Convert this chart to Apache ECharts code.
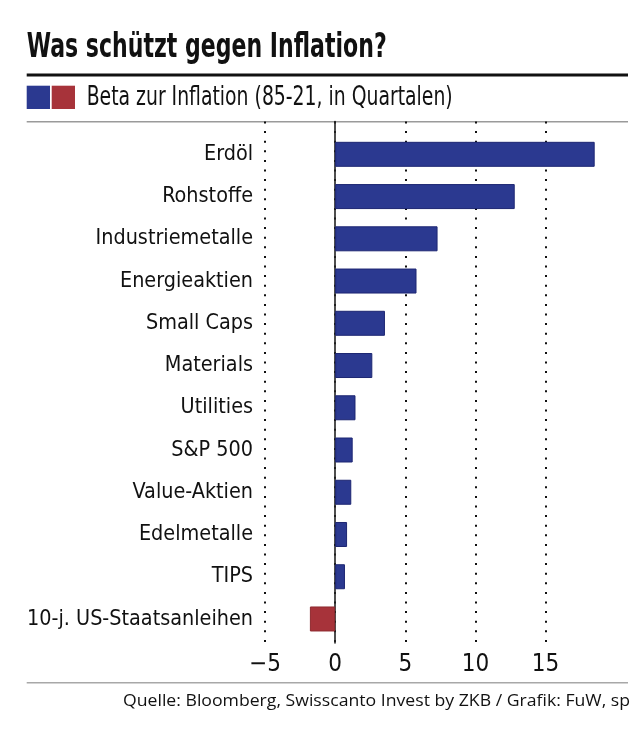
<!DOCTYPE html>
<html>
<head>
<meta charset="utf-8">
<script src="https://cdn.jsdelivr.net/npm/echarts@6/dist/echarts.min.js"></script>
<style>
html,body{margin:0;padding:0;background:#fff;}
#chart{width:640px;height:732px;}
</style>
</head>
<body>
<div id="chart"></div>
<script>
const titleText = 'Was schützt gegen Inflation?';
const legendText = 'Beta zur Inflation (85-21, in Quartalen)';
const sourceText = 'Quelle: Bloomberg, Swisscanto Invest by ZKB / Grafik: FuW, sp';
const categories = ['Erdöl', 'Rohstoffe', 'Industriemetalle', 'Energieaktien', 'Small Caps', 'Materials', 'Utilities', 'S&P 500', 'Value-Aktien', 'Edelmetalle', 'TIPS', '10-j. US-Staatsanleihen'];
const betaValues = [18.5, 12.8, 7.3, 5.8, 3.55, 2.65, 1.45, 1.25, 1.15, 0.85, 0.7, -1.8];
const xTickValues = [-5, 0, 5, 10, 15];
const xMin = -5, xMax = 19, xInterval = 5;

const BLUE = '#2b3990', BLUE_EDGE = '#1d2672', RED = '#a7333a', RED_EDGE = '#8e2a30';
const NARROW = '"Liberation Sans Narrow", "DejaVu Sans Condensed", "Roboto Condensed", sans-serif';
const HUMAN = '"Open Sans", "Noto Sans", sans-serif';

const mctx = document.createElement('canvas').getContext('2d');
function fitScale(font, text, target) {
  mctx.font = font;
  const w = mctx.measureText(text).width;
  return w > 0 ? target / w : 1;
}

const titleFont = 'bold 33px ' + NARROW;
const legendFont = '26px ' + NARROW;
const sourceFont = '15.5px ' + HUMAN;

const chart = echarts.init(document.getElementById('chart'), null, {renderer: 'canvas'});

const fmt = v => (v < 0 ? '\u2212' + Math.abs(v) : String(v));

const option = {
  animation: false,
  backgroundColor: '#fff',
  grid: [
    {left: 265, right: 38.3, top: 133.2, bottom: 91.9, containLabel: false},
    {left: 265, right: 38.3, top: 121.5, bottom: 89, containLabel: false}
  ],
  xAxis: [
    {gridIndex: 0, type: 'value', min: xMin, max: xMax, interval: xInterval, show: false},
    {
      gridIndex: 1, type: 'value', min: xMin, max: xMax, interval: xInterval,
      axisLine: {show: false}, axisTick: {show: false},
      splitLine: {show: true, showMaxLine: false, lineStyle: {color: '#111', width: 2, type: [2, 7.6]}},
      axisLabel: {
        show: true, margin: 10, showMaxLabel: false, color: '#111', fontSize: 24, fontFamily: NARROW,
        formatter: v => (xTickValues.indexOf(v) >= 0 ? fmt(v) : '')
      }
    }
  ],
  yAxis: [
    {
      gridIndex: 0, type: 'category', data: categories, inverse: true,
      axisLine: {show: false, onZero: false}, axisTick: {show: false}, splitLine: {show: false},
      axisLabel: {margin: 12, color: '#111', fontSize: 21.4, fontFamily: NARROW}
    },
    {
      gridIndex: 1, type: 'value', min: 0, max: 1,
      axisLine: {show: true, onZero: true, lineStyle: {color: '#222', width: 1.6}},
      axisTick: {show: false}, axisLabel: {show: false}, splitLine: {show: false}
    }
  ],
  series: [
    {
      type: 'bar', xAxisIndex: 0, yAxisIndex: 0, barWidth: 25,
      data: betaValues.map(v => ({
        value: v,
        itemStyle: {color: v < 0 ? RED : BLUE, borderColor: v < 0 ? RED_EDGE : BLUE_EDGE, borderWidth: 1}
      }))
    }
  ],
  graphic: [
    {type: 'text', x: 26.7, y: 48, scaleX: fitScale(titleFont, titleText, 360),
      style: {text: titleText, x: 0, y: 0, font: titleFont, fill: '#111', textAlign: 'left', textVerticalAlign: 'middle'}},
    {type: 'rect', shape: {x: 26.7, y: 73.5, width: 601.3, height: 3}, style: {fill: '#111'}},
    {type: 'rect', shape: {x: 26.7, y: 85.7, width: 23.3, height: 23.3}, style: {fill: BLUE}},
    {type: 'rect', shape: {x: 51.7, y: 85.7, width: 23.3, height: 23.3}, style: {fill: RED}},
    {type: 'text', x: 86.7, y: 98, scaleX: fitScale(legendFont, legendText, 366),
      style: {text: legendText, x: 0, y: 0, font: legendFont, fill: '#111', textAlign: 'left', textVerticalAlign: 'middle'}},
    {type: 'line', shape: {x1: 26.7, y1: 121.7, x2: 628, y2: 121.7}, style: {stroke: '#9a9a9a', lineWidth: 1.5}},
    {type: 'line', shape: {x1: 26.7, y1: 682.7, x2: 628, y2: 682.7}, style: {stroke: '#a8a8a8', lineWidth: 1.5}},
    {type: 'text', x: 630, y: 702, scaleX: fitScale(sourceFont, sourceText, 507),
      style: {text: sourceText, x: 0, y: 0, font: sourceFont, fill: '#111', textAlign: 'right', textVerticalAlign: 'middle'}}
  ]
};
chart.setOption(option);
</script>
</body>
</html>
